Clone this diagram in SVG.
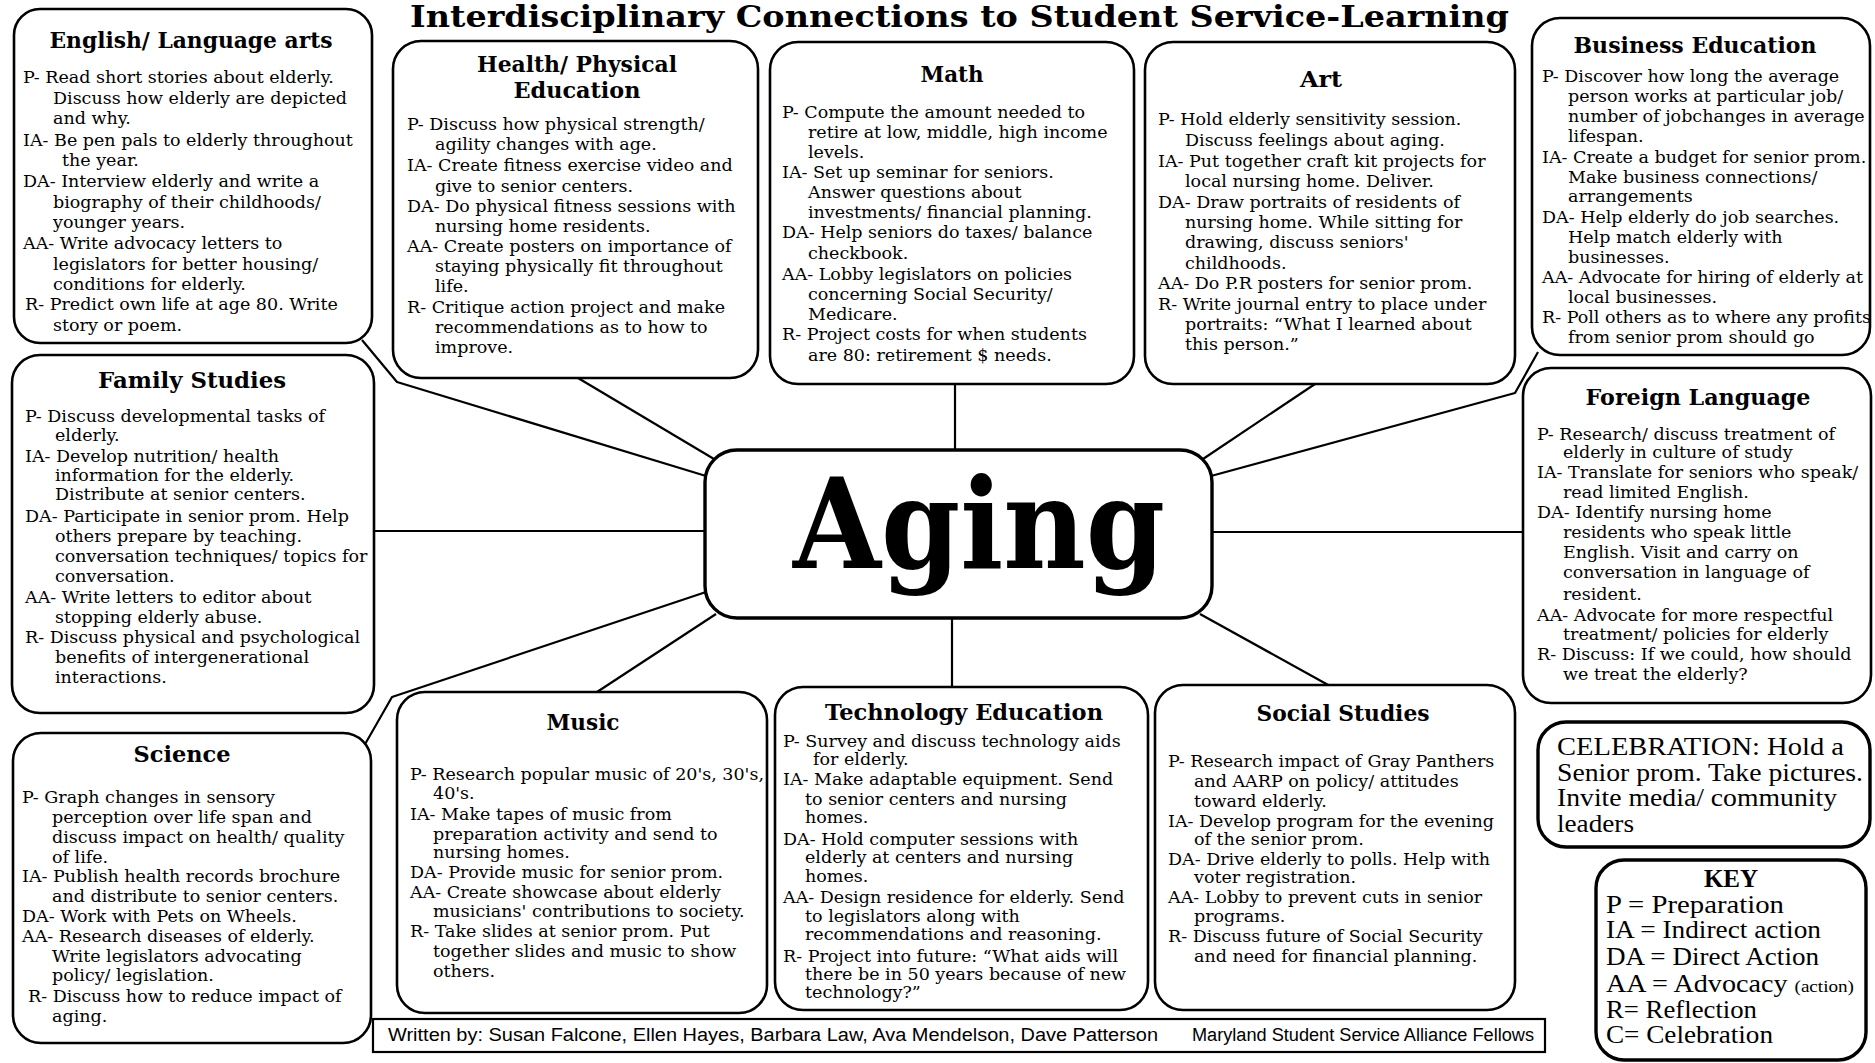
<svg xmlns="http://www.w3.org/2000/svg" width="1875" height="1063" viewBox="0 0 1875 1063">
<style>
.bg{fill:#fff}
.box{fill:#fff;stroke:#000;stroke-width:2.6}
.box2{fill:#fff;stroke:#000;stroke-width:3.4}
.t{font-family:"DejaVu Serif","Liberation Serif",serif;font-size:17.5px;fill:#000}
.h{font-family:"DejaVu Serif","Liberation Serif",serif;font-size:23px;font-weight:bold;fill:#000;text-anchor:middle}
.k{font-family:"Liberation Serif","DejaVu Serif",serif;font-size:25px;fill:#000}
.f{font-family:"Liberation Sans","DejaVu Sans",sans-serif;font-size:18px;fill:#000}
.conn{stroke:#000;stroke-width:2.2;fill:none;stroke-linejoin:round}
</style>
<rect class="bg" x="0" y="0" width="1875" height="1063"/>
<text id="title" x="410" y="27" font-family="DejaVu Serif, Liberation Serif, serif" font-weight="bold" font-size="30" textLength="1099" lengthAdjust="spacingAndGlyphs">Interdisciplinary Connections to Student Service-Learning</text>

<g id="connectors">
<line class="conn" x1="955" y1="384" x2="955" y2="450"/>
<line class="conn" x1="952" y1="618" x2="952" y2="687"/>
<line class="conn" x1="374" y1="531" x2="705" y2="531"/>
<line class="conn" x1="1212" y1="532" x2="1523" y2="532"/>
<line class="conn" x1="578" y1="378" x2="714" y2="459"/>
<polyline class="conn" points="362,340 397,382 706,476"/>
<line class="conn" x1="597" y1="692" x2="716" y2="614"/>
<polyline class="conn" points="364,746 392,697 706,592"/>
<line class="conn" x1="1315" y1="384" x2="1203" y2="459"/>
<polyline class="conn" points="1538,352 1515,393 1211,476"/>
<line class="conn" x1="1200" y1="614" x2="1330" y2="686"/>
</g>

<g id="aging">
<rect class="box2" x="705" y="450" width="507" height="168" rx="32"/>
<text x="793" y="568" font-family="DejaVu Serif, Liberation Serif, serif" font-weight="bold" font-size="125" textLength="372" lengthAdjust="spacingAndGlyphs">Aging</text>
</g>

<g id="english">
<rect class="box" x="14" y="9" width="358" height="334" rx="26"/>
<text class="h" x="191" y="48" textLength="283" lengthAdjust="spacingAndGlyphs">English/ Language arts</text>
<text class="t" x="23" y="83">P- Read short stories about elderly.</text>
<text class="t" x="53" y="104">Discuss how elderly are depicted</text>
<text class="t" x="53" y="124">and why.</text>
<text class="t" x="23" y="146">IA- Be pen pals to elderly throughout</text>
<text class="t" x="62" y="166">the year.</text>
<text class="t" x="23" y="187">DA- Interview elderly and write a</text>
<text class="t" x="53" y="208">biography of their childhoods/</text>
<text class="t" x="53" y="228">younger years.</text>
<text class="t" x="23" y="249">AA- Write advocacy letters to</text>
<text class="t" x="53" y="270">legislators for better housing/</text>
<text class="t" x="53" y="290">conditions for elderly.</text>
<text class="t" x="25" y="310">R- Predict own life at age 80. Write</text>
<text class="t" x="53" y="331">story or poem.</text>
</g>

<g id="health">
<rect class="box" x="393" y="41" width="365" height="337" rx="28"/>
<text class="h" x="577" y="72" textLength="200" lengthAdjust="spacingAndGlyphs">Health/ Physical</text>
<text class="h" x="577" y="98" textLength="127" lengthAdjust="spacingAndGlyphs">Education</text>
<text class="t" x="407" y="130">P- Discuss how physical strength/</text>
<text class="t" x="435" y="150">agility changes with age.</text>
<text class="t" x="407" y="171">IA- Create fitness exercise video and</text>
<text class="t" x="435" y="192">give to senior centers.</text>
<text class="t" x="407" y="212">DA- Do physical fitness sessions with</text>
<text class="t" x="435" y="232">nursing home residents.</text>
<text class="t" x="407" y="252">AA- Create posters on importance of</text>
<text class="t" x="435" y="272">staying  physically fit throughout</text>
<text class="t" x="435" y="292">life.</text>
<text class="t" x="407" y="313">R- Critique action project and make</text>
<text class="t" x="435" y="333">recommendations as to how to</text>
<text class="t" x="435" y="353">improve.</text>
</g>

<g id="math">
<rect class="box" x="770" y="42" width="364" height="342" rx="28"/>
<text class="h" x="952" y="82" textLength="63" lengthAdjust="spacingAndGlyphs">Math</text>
<text class="t" x="782" y="118">P- Compute the amount needed to</text>
<text class="t" x="808" y="138">retire at low, middle, high income</text>
<text class="t" x="808" y="158">levels.</text>
<text class="t" x="782" y="178">IA- Set up seminar for seniors.</text>
<text class="t" x="808" y="198">Answer questions about</text>
<text class="t" x="808" y="218">investments/ financial planning.</text>
<text class="t" x="782" y="238">DA- Help seniors do taxes/ balance</text>
<text class="t" x="808" y="259">checkbook.</text>
<text class="t" x="782" y="280">AA- Lobby legislators on policies</text>
<text class="t" x="808" y="300">concerning Social Security/</text>
<text class="t" x="808" y="320">Medicare.</text>
<text class="t" x="782" y="340">R- Project costs for when  students</text>
<text class="t" x="808" y="361">are 80: retirement $ needs.</text>
</g>

<g id="art">
<rect class="box" x="1145" y="42" width="370" height="342" rx="28"/>
<text class="h" x="1321" y="87" textLength="42" lengthAdjust="spacingAndGlyphs">Art</text>
<text class="t" x="1158" y="125">P- Hold elderly sensitivity  session.</text>
<text class="t" x="1185" y="146">Discuss feelings about aging.</text>
<text class="t" x="1158" y="167">IA- Put together craft kit projects for</text>
<text class="t" x="1185" y="187">local nursing home. Deliver.</text>
<text class="t" x="1158" y="208">DA- Draw portraits of residents of</text>
<text class="t" x="1185" y="228">nursing home. While sitting for</text>
<text class="t" x="1185" y="248">drawing, discuss seniors'</text>
<text class="t" x="1185" y="269">childhoods.</text>
<text class="t" x="1158" y="289">AA- Do P.R  posters for senior prom.</text>
<text class="t" x="1158" y="310">R- Write journal entry to place under</text>
<text class="t" x="1185" y="330">portraits: “What I learned about</text>
<text class="t" x="1185" y="350">this person.”</text>
</g>

<g id="business">
<rect class="box" x="1532" y="18" width="338" height="337" rx="28"/>
<text class="h" x="1695" y="53" textLength="243" lengthAdjust="spacingAndGlyphs">Business Education</text>
<text class="t" x="1542" y="82">P- Discover how long the average</text>
<text class="t" x="1568" y="102">person works at particular job/</text>
<text class="t" x="1568" y="122">number of jobchanges in average</text>
<text class="t" x="1568" y="142">lifespan.</text>
<text class="t" x="1542" y="163">IA- Create a budget for senior prom.</text>
<text class="t" x="1568" y="183">Make business connections/</text>
<text class="t" x="1568" y="202">arrangements</text>
<text class="t" x="1542" y="223">DA- Help elderly do job searches.</text>
<text class="t" x="1568" y="243">Help match elderly with</text>
<text class="t" x="1568" y="263">businesses.</text>
<text class="t" x="1542" y="283">AA- Advocate for hiring of elderly at</text>
<text class="t" x="1568" y="303">local businesses.</text>
<text class="t" x="1542" y="323">R- Poll others as to where any profits</text>
<text class="t" x="1568" y="343">from senior prom should go</text>
</g>

<g id="family">
<rect class="box" x="12" y="355" width="362" height="358" rx="28"/>
<text class="h" x="192" y="388" textLength="188" lengthAdjust="spacingAndGlyphs">Family Studies</text>
<text class="t" x="25" y="422">P- Discuss developmental tasks of</text>
<text class="t" x="55" y="441">elderly.</text>
<text class="t" x="25" y="462">IA- Develop nutrition/ health</text>
<text class="t" x="55" y="481">information for the elderly.</text>
<text class="t" x="55" y="500">Distribute at senior centers.</text>
<text class="t" x="25" y="522">DA- Participate in senior prom. Help</text>
<text class="t" x="55" y="542">others prepare by teaching.</text>
<text class="t" x="55" y="562">conversation techniques/ topics for</text>
<text class="t" x="55" y="582">conversation.</text>
<text class="t" x="25" y="603">AA- Write letters to editor about</text>
<text class="t" x="55" y="623">stopping elderly abuse.</text>
<text class="t" x="25" y="643">R- Discuss physical and  psychological</text>
<text class="t" x="55" y="663">benefits of intergenerational</text>
<text class="t" x="55" y="683">interactions.</text>
</g>

<g id="foreign">
<rect class="box" x="1523" y="368" width="348" height="335" rx="28"/>
<text class="h" x="1698" y="405" textLength="225" lengthAdjust="spacingAndGlyphs">Foreign Language</text>
<text class="t" x="1537" y="440">P- Research/ discuss treatment of</text>
<text class="t" x="1563" y="458">elderly in culture of study</text>
<text class="t" x="1537" y="478">IA- Translate for seniors who speak/</text>
<text class="t" x="1563" y="498">read limited English.</text>
<text class="t" x="1537" y="518">DA- Identify nursing home</text>
<text class="t" x="1563" y="538">residents who speak little</text>
<text class="t" x="1563" y="558">English. Visit and carry on</text>
<text class="t" x="1563" y="578">conversation in language of</text>
<text class="t" x="1563" y="600">resident.</text>
<text class="t" x="1537" y="621">AA- Advocate for more respectful</text>
<text class="t" x="1563" y="640">treatment/ policies for elderly</text>
<text class="t" x="1537" y="660">R- Discuss: If we could, how should</text>
<text class="t" x="1563" y="680">we treat the elderly?</text>
</g>

<g id="science">
<rect class="box" x="13" y="733" width="358" height="310" rx="28"/>
<text class="h" x="182" y="762" textLength="97" lengthAdjust="spacingAndGlyphs">Science</text>
<text class="t" x="22" y="803">P- Graph changes in sensory</text>
<text class="t" x="52" y="823">perception over life span and</text>
<text class="t" x="52" y="843">discuss impact on health/ quality</text>
<text class="t" x="52" y="863">of life.</text>
<text class="t" x="22" y="882">IA- Publish health records brochure</text>
<text class="t" x="52" y="902">and distribute to senior centers.</text>
<text class="t" x="22" y="922">DA- Work with Pets on Wheels.</text>
<text class="t" x="22" y="942">AA- Research diseases of elderly.</text>
<text class="t" x="52" y="962">Write legislators advocating</text>
<text class="t" x="52" y="981">policy/ legislation.</text>
<text class="t" x="28" y="1002">R- Discuss how to reduce impact of</text>
<text class="t" x="52" y="1022">aging.</text>
</g>

<g id="music">
<rect class="box" x="397" y="692" width="370" height="321" rx="28"/>
<text class="h" x="583" y="730" textLength="73" lengthAdjust="spacingAndGlyphs">Music</text>
<text class="t" x="410" y="780">P- Research popular music of 20's, 30's,</text>
<text class="t" x="433" y="799">40's.</text>
<text class="t" x="410" y="820">IA- Make tapes of music from</text>
<text class="t" x="433" y="840">preparation activity and send to</text>
<text class="t" x="433" y="858">nursing homes.</text>
<text class="t" x="410" y="878">DA- Provide music for senior prom.</text>
<text class="t" x="410" y="898">AA- Create showcase about elderly</text>
<text class="t" x="433" y="917">musicians'  contributions to society.</text>
<text class="t" x="410" y="937">R- Take slides at senior prom. Put</text>
<text class="t" x="433" y="957">together slides and music to show</text>
<text class="t" x="433" y="977">others.</text>
</g>

<g id="technology">
<rect class="box" x="775" y="687" width="373" height="323" rx="28"/>
<text class="h" x="964" y="720" textLength="278" lengthAdjust="spacingAndGlyphs">Technology Education</text>
<text class="t" x="783" y="747">P- Survey and discuss technology aids</text>
<text class="t" x="813" y="765">for elderly.</text>
<text class="t" x="783" y="785">IA- Make adaptable equipment. Send</text>
<text class="t" x="805" y="805">to senior centers and nursing</text>
<text class="t" x="805" y="823">homes.</text>
<text class="t" x="783" y="845">DA- Hold computer sessions with</text>
<text class="t" x="805" y="863">elderly at centers and nursing</text>
<text class="t" x="805" y="882">homes.</text>
<text class="t" x="783" y="903">AA- Design residence for elderly. Send</text>
<text class="t" x="805" y="922">to legislators along with</text>
<text class="t" x="805" y="940">recommendations and reasoning.</text>
<text class="t" x="783" y="962">R- Project into future: “What aids will</text>
<text class="t" x="805" y="980">there be in 50 years because of new</text>
<text class="t" x="805" y="998">technology?”</text>
</g>

<g id="social">
<rect class="box" x="1155" y="685" width="360" height="325" rx="28"/>
<text class="h" x="1343" y="721" textLength="173" lengthAdjust="spacingAndGlyphs">Social Studies</text>
<text class="t" x="1168" y="767">P- Research impact of Gray Panthers</text>
<text class="t" x="1194" y="787">and AARP on policy/ attitudes</text>
<text class="t" x="1194" y="807">toward elderly.</text>
<text class="t" x="1168" y="827">IA- Develop program for the evening</text>
<text class="t" x="1194" y="845">of the senior prom.</text>
<text class="t" x="1168" y="865">DA- Drive elderly to polls. Help with</text>
<text class="t" x="1194" y="883">voter registration.</text>
<text class="t" x="1168" y="903">AA- Lobby to prevent cuts in senior</text>
<text class="t" x="1194" y="922">programs.</text>
<text class="t" x="1168" y="942">R- Discuss future of Social Security</text>
<text class="t" x="1194" y="962">and need for financial planning.</text>
</g>

<g id="celebration">
<rect class="box2" x="1538" y="722" width="332" height="125" rx="28"/>
<text class="k" x="1557" y="755" font-size="26" textLength="287" lengthAdjust="spacingAndGlyphs">CELEBRATION:  Hold a</text>
<text class="k" x="1557" y="781" font-size="26" textLength="306" lengthAdjust="spacingAndGlyphs">Senior prom. Take pictures.</text>
<text class="k" x="1557" y="806" font-size="26" textLength="280" lengthAdjust="spacingAndGlyphs">Invite media/ community</text>
<text class="k" x="1557" y="832" font-size="26" textLength="77" lengthAdjust="spacingAndGlyphs">leaders</text>
</g>

<g id="key">
<rect class="box2" x="1596" y="860" width="270" height="200" rx="28"/>
<text class="k" x="1731" y="887" text-anchor="middle" font-weight="bold">KEY</text>
<text class="k" x="1606" y="913" textLength="178" lengthAdjust="spacingAndGlyphs">P = Preparation</text>
<text class="k" x="1606" y="938" textLength="215" lengthAdjust="spacingAndGlyphs">IA = Indirect action</text>
<text class="k" x="1606" y="965" textLength="213" lengthAdjust="spacingAndGlyphs">DA = Direct Action</text>
<text class="k" x="1606" y="992" textLength="248" lengthAdjust="spacingAndGlyphs">AA = Advocacy <tspan font-size="17">(action)</tspan></text>
<text class="k" x="1606" y="1018" textLength="151" lengthAdjust="spacingAndGlyphs">R= Reflection</text>
<text class="k" x="1606" y="1043" textLength="167" lengthAdjust="spacingAndGlyphs">C= Celebration</text>
</g>

<g id="footer">
<rect x="373" y="1019" width="1172" height="33" fill="#fff" stroke="#000" stroke-width="2.2"/>
<text class="f" x="388" y="1041" textLength="770" lengthAdjust="spacingAndGlyphs">Written by: Susan Falcone, Ellen Hayes, Barbara Law, Ava Mendelson, Dave Patterson</text>
<text class="f" x="1192" y="1041" textLength="342" lengthAdjust="spacingAndGlyphs">Maryland Student Service Alliance Fellows</text>
</g>
</svg>
